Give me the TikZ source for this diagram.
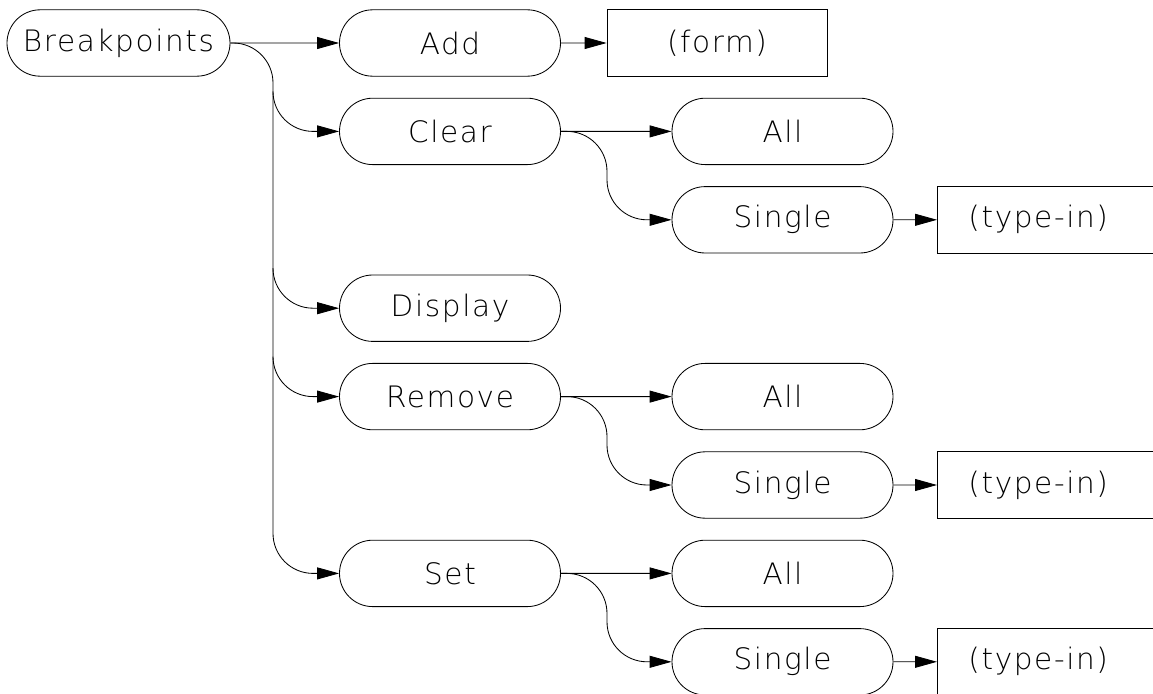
\documentclass[tikz,border=0pt]{standalone}
\usepackage{fontspec}
\setmainfont{DejaVu Sans ExtraLight}[LetterSpace=5.5]
\usetikzlibrary{shapes.misc,arrows.meta}

\begin{document}
\begin{tikzpicture}[
    line width=0.6pt,
    menu/.style={rounded rectangle, draw, minimum width=5.525cm, minimum height=1.66cm,
                 inner sep=0pt, font=\fontsize{21}{24}\selectfont},
    formbox/.style={rectangle, draw, minimum width=5.5cm, minimum height=1.66cm,
                 inner sep=0pt, font=\fontsize{21}{24}\selectfont},
    typein/.style={rectangle, draw, anchor=west, text width=3.975cm, inner xsep=0.775cm,
                 minimum height=1.66cm, align=left, font=\fontsize{21}{24}\selectfont},
    arr/.style={-{Triangle[length=0.55cm,width=0.3cm]}},
    branch/.style={arr, rounded corners=1cm}
]
    \useasboundingbox (0,0) rectangle (28.825,-17.35);
    \clip (0,0) rectangle (28.825,-17.35);

    \node[menu, minimum width=5.575cm] (bp) at (2.9625,-1.075) {Breakpoints};
    \node[menu] (add) at (11.25,-1.075) {Add};
    \node[formbox] (form) at (17.925,-1.075) {(form)};
    \node[menu] (clear) at (11.25,-3.285) {Clear};
    \node[menu] (clrall) at (19.5625,-3.285) {All};
    \node[menu] (clrsingle) at (19.5625,-5.495) {Single};
    \node[typein] (clrtype) at (23.425,-5.495) {(type-in)};
    \node[menu] (display) at (11.25,-7.705) {Display};
    \node[menu] (remove) at (11.25,-9.915) {Remove};
    \node[menu] (remall) at (19.5625,-9.915) {All};
    \node[menu] (remsingle) at (19.5625,-12.125) {Single};
    \node[typein] (remtype) at (23.425,-12.125) {(type-in)};
    \node[menu] (set) at (11.25,-14.335) {Set};
    \node[menu] (setall) at (19.5625,-14.335) {All};
    \node[menu] (setsingle) at (19.5625,-16.545) {Single};
    \node[typein] (settype) at (23.425,-16.545) {(type-in)};

    \coordinate (trunk) at (6.825,0);
    \coordinate (fork) at (15.175,0);

    % first level: one trunk, side branches leave it
    \draw[arr] (bp) -- (add);
    \draw[arr] (add) -- (form);
    \draw[branch] (bp.east) -| (trunk |- set.west) -- (set.west);
    \foreach \n in {clear, display, remove}
        \draw[arr] ([yshift=1cm]trunk |- \n.west)
            arc[start angle=180, end angle=270, radius=1cm] -- (\n.west);

    % second level
    \draw[arr] (clear) -- (clrall);
    \draw[branch] (clear.east) -| (fork |- clrsingle.west) -- (clrsingle.west);
    \draw[arr] (clrsingle) -- (clrtype);
    \draw[arr] (remove) -- (remall);
    \draw[branch] (remove.east) -| (fork |- remsingle.west) -- (remsingle.west);
    \draw[arr] (remsingle) -- (remtype);
    \draw[arr] (set) -- (setall);
    \draw[branch] (set.east) -| (fork |- setsingle.west) -- (setsingle.west);
    \draw[arr] (setsingle) -- (settype);
\end{tikzpicture}
\end{document}
